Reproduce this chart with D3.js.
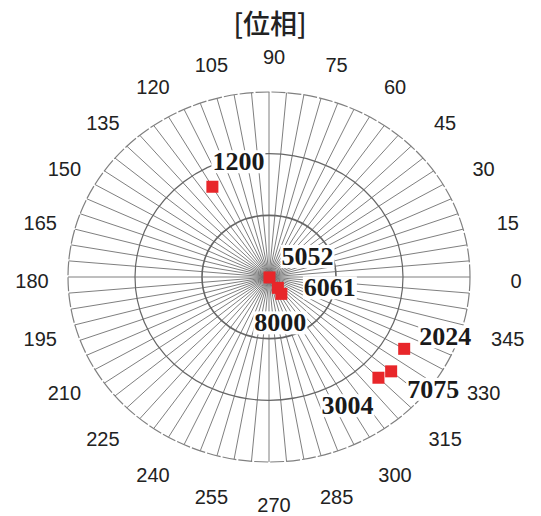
<!DOCTYPE html>
<html>
<head>
<meta charset="utf-8">
<script src="https://cdn.jsdelivr.net/npm/d3@7"></script>
<style>
  body { margin: 0; background: #fff; }
  svg { display: block; }
</style>
</head>
<body>
<svg id="polar"></svg>
<script>
// sample labels, amplitude (ring units) and phase (deg)
const sampleNames = ["1200", "5052", "6061", "8000", "2024", "7075", "3004"];
const amplitudes = [1.69, 0.01, 0.22, 0.33, 2.33, 2.38, 2.31];
const phases = [120, 315, 307, 304, 330, 320, 315];
const ringValues = [1, 2, 3];
const phaseTicks = [0, 15, 30, 45, 60, 75, 90, 105, 120, 135, 150, 165,
                    180, 195, 210, 225, 240, 255, 270, 285, 300, 315, 330, 345];
const axisTitle = "[位相]";

const width = 541;
const height = 516;
const cx = 269, cy = 277;

const svg = d3.select("#polar").attr("width", width).attr("height", height);

// the plot is slightly squashed vertically
const rx = d3.scaleLinear().domain([0, 3]).range([0, 201]);
const ry = d3.scaleLinear().domain([0, 3]).range([0, 185]);
const rad = (deg) => deg * Math.PI / 180;
const px = (r, a) => cx + rx(r) * Math.cos(rad(a));
const py = (r, a) => cy - ry(r) * Math.sin(rad(a));

const grid = svg.append("g").attr("class", "grid");

// spokes every 5 degrees
grid.selectAll("line.spoke")
    .data(d3.range(0, 360, 5))
    .join("line")
    .attr("class", "spoke")
    .attr("x1", cx).attr("y1", cy)
    .attr("x2", (a) => px(3, a))
    .attr("y2", (a) => py(3, a))
    .attr("stroke", "#707070")
    .attr("stroke-width", 0.9);

// rings
grid.selectAll("ellipse.ring")
    .data(ringValues)
    .join("ellipse")
    .attr("class", "ring")
    .attr("cx", cx).attr("cy", cy)
    .attr("rx", (d) => rx(d))
    .attr("ry", (d) => ry(d))
    .attr("fill", "none")
    .attr("stroke", (d) => d === 3 ? "#808080" : "#666")
    .attr("stroke-width", (d) => d === 1 ? 1.6 : 1.2)
    .attr("stroke-dasharray", (d) => d === 3 ? "14,2" : null);

// phase tick labels
const lcx = 274, lcy = 281, lrx = 242, lry = 224;
svg.append("g").selectAll("text")
    .data(phaseTicks)
    .join("text")
    .attr("x", (a) => lcx + lrx * Math.cos(rad(a)))
    .attr("y", (a) => lcy - lry * Math.sin(rad(a)))
    .attr("text-anchor", "middle")
    .attr("dominant-baseline", "central")
    .attr("font-family", "'Liberation Sans', Arial, sans-serif")
    .attr("font-size", 20)
    .attr("fill", "#222")
    .text((d) => d);

// title
svg.append("text")
    .attr("x", 270)
    .attr("y", 22)
    .attr("text-anchor", "middle")
    .attr("dominant-baseline", "central")
    .attr("font-family", "'Noto Sans CJK JP', sans-serif")
    .attr("font-weight", 500)
    .attr("font-size", 27)
    .attr("fill", "#222")
    .text(axisTitle);

// points
const points = sampleNames.map((name, i) => ({
    name: name,
    x: px(amplitudes[i], phases[i]),
    y: py(amplitudes[i], phases[i])
}));

// where each label sits relative to its marker
const labelOffset = {
    "1200": [26, -25], "5052": [38, -21], "6061": [52, 0], "8000": [-1, 29],
    "2024": [41, -12], "7075": [42, 18], "3004": [-31, 28]
};

const labels = svg.append("g").attr("class", "labels");
points.forEach((p) => {
    const g = labels.append("g");
    const t = g.append("text")
        .attr("x", p.x + labelOffset[p.name][0])
        .attr("y", p.y + labelOffset[p.name][1])
        .attr("text-anchor", "middle")
        .attr("dominant-baseline", "central")
        .attr("font-family", "'Liberation Serif', 'Times New Roman', serif")
        .attr("font-weight", "bold")
        .attr("font-size", 26)
        .attr("fill", "#1a1a1a")
        .text(p.name);
    const bb = t.node().getBBox();
    g.insert("rect", "text")
        .attr("x", bb.x - 1).attr("y", bb.y + 3)
        .attr("width", bb.width + 2).attr("height", bb.height - 6)
        .attr("fill", "#fff");
});

svg.append("g").selectAll("rect")
    .data(points)
    .join("rect")
    .attr("x", (d) => d.x - 6)
    .attr("y", (d) => d.y - 6)
    .attr("width", 12)
    .attr("height", 12)
    .attr("fill", "#e8262a");
</script>
</body>
</html>
